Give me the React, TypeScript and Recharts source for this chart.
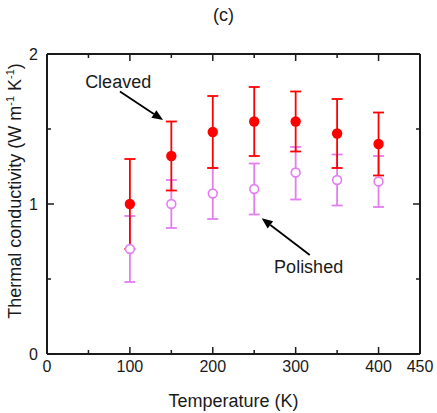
import React from 'react';
import {
  ScatterChart, Scatter, XAxis, YAxis, ErrorBar, ReferenceLine, ReferenceDot,
} from 'recharts';

const temperatures = [100, 150, 200, 250, 300, 350, 400];

const cleaved = [1.0, 1.32, 1.48, 1.55, 1.55, 1.47, 1.4];
const cleavedHigh = [1.3, 1.55, 1.72, 1.78, 1.75, 1.7, 1.61];
const cleavedLow = [0.7, 1.09, 1.24, 1.32, 1.35, 1.24, 1.19];

const polished = [0.7, 1.0, 1.07, 1.1, 1.21, 1.16, 1.15];
const polishedHigh = [0.92, 1.16, 1.24, 1.27, 1.38, 1.33, 1.32];
const polishedLow = [0.48, 0.84, 0.9, 0.93, 1.03, 0.99, 0.98];

const xTicks = [0, 50, 100, 150, 200, 250, 300, 350, 400, 450];
const xLabels = [0, 100, 200, 300, 400, 450];
const yTicks = [0, 0.5, 1, 1.5, 2];
const yLabels = [0, 1, 2];

// text label and arrow (from -> to) in data units
const annotations = [
  { text: 'Cleaved', textX: 46, textY: 1.773, fromX: 88, fromY: 1.75, toX: 140, toY: 1.56 },
  { text: 'Polished', textX: 274, textY: 0.54, fromX: 317, fromY: 0.66, toX: 259, toY: 0.905 },
];

const RED = '#ff0000';
const VIOLET = '#e47cf2';
const INK = '#1a1a1a';
const FONT = '"Liberation Sans", Arial, Helvetica, sans-serif';

const buildRows = (vals: number[], hi: number[], lo: number[]) =>
  temperatures.map((t, i) => ({ t, k: vals[i], err: [vals[i] - lo[i], hi[i] - vals[i]] }));

const cleavedRows = buildRows(cleaved, cleavedHigh, cleavedLow);
const polishedRows = buildRows(polished, polishedHigh, polishedLow);

const BottomTick = (props: any) => {
  const { x, y, payload } = props;
  const major = payload.value % 100 === 0;
  return (
    <g>
      <line x1={x} y1={y} x2={x} y2={y - (major ? 7 : 4)} stroke={INK} strokeWidth={1.5} />
      {xLabels.includes(payload.value) && (
        <text x={x} y={y + 18} textAnchor="middle" fontSize={16} fill={INK} fontFamily={FONT}>
          {payload.value}
        </text>
      )}
    </g>
  );
};

const TopTick = (props: any) => {
  const { x, y, payload } = props;
  const major = payload.value % 100 === 0;
  return <line x1={x} y1={y} x2={x} y2={y + (major ? 7 : 4)} stroke={INK} strokeWidth={1.5} />;
};

const LeftTick = (props: any) => {
  const { x, y, payload } = props;
  const major = Number.isInteger(payload.value);
  return (
    <g>
      <line x1={x} y1={y} x2={x + (major ? 7 : 4)} y2={y} stroke={INK} strokeWidth={1.5} />
      {yLabels.includes(payload.value) && (
        <text x={x - 9} y={y + 6} textAnchor="end" fontSize={16} fill={INK} fontFamily={FONT}>
          {payload.value}
        </text>
      )}
    </g>
  );
};

const RightTick = (props: any) => {
  const { x, y, payload } = props;
  const major = Number.isInteger(payload.value);
  return <line x1={x} y1={y} x2={x - (major ? 7 : 4)} y2={y} stroke={INK} strokeWidth={1.5} />;
};

const XTitle = (props: any) => {
  const { x, y, width } = props.viewBox;
  return (
    <text x={x + width / 2} y={y + 53} textAnchor="middle" fontSize={18} fill={INK} fontFamily={FONT}>
      Temperature (K)
    </text>
  );
};

const YTitle = (props: any) => {
  const { y, height } = props.viewBox;
  const cx = 21;
  const cy = y + height / 2 - 13;
  return (
    <text x={cx} y={cy} transform={`rotate(-90 ${cx} ${cy})`} textAnchor="middle" fontSize={18} fill={INK} fontFamily={FONT}>
      Thermal conductivity (W m
      <tspan fontSize={11} dy={-7}>-1</tspan>
      <tspan dy={7}> K</tspan>
      <tspan fontSize={11} dy={-7}>-1</tspan>
      <tspan dy={7}>)</tspan>
    </text>
  );
};

const PlotTitle = (props: any) => {
  const { x, width } = props.viewBox;
  return (
    <text x={x + width / 2 - 10} y={21} textAnchor="middle" fontSize={18} fill={INK} fontFamily={FONT}>
      (c)
    </text>
  );
};

const Arrow = (props: any) => {
  const { x1, y1, x2, y2 } = props;
  const ang = Math.atan2(y2 - y1, x2 - x1);
  const len = 11;
  const half = 4.5;
  const bx = x2 - len * Math.cos(ang);
  const by = y2 - len * Math.sin(ang);
  const px = -Math.sin(ang) * half;
  const py = Math.cos(ang) * half;
  return (
    <g>
      <line x1={x1} y1={y1} x2={bx} y2={by} stroke="#000" strokeWidth={1.8} />
      <polygon points={`${x2},${y2} ${bx + px},${by + py} ${bx - px},${by - py}`} fill="#000" />
    </g>
  );
};

const FilledDot = (props: any) => <circle cx={props.cx} cy={props.cy} r={5.2} fill={RED} />;
const OpenDot = (props: any) => (
  <circle cx={props.cx} cy={props.cy} r={4.4} fill="#fff" stroke={VIOLET} strokeWidth={1.6} />
);

export default function App() {
  return (
    <div style={{ position: 'absolute', left: 0, top: 0, background: '#fff' }}>
      <ScatterChart width={437} height={413} margin={{ top: 53, right: 16, bottom: 0, left: 0 }}>
        <XAxis
          xAxisId={0}
          dataKey="t"
          type="number"
          domain={[0, 450]}
          ticks={xTicks}
          interval={0}
          height={59}
          tickSize={0}
          tickMargin={0}
          tick={<BottomTick />}
          axisLine={{ stroke: INK, strokeWidth: 2 }}
          label={<XTitle />}
        />
        {/* mirror axes: same fixed domains, they draw the top and right sides of the frame */}
        <XAxis
          xAxisId="top"
          orientation="top"
          dataKey="t"
          type="number"
          domain={[0, 450]}
          ticks={xTicks}
          interval={0}
          height={1}
          tickSize={0}
          tickMargin={0}
          tick={<TopTick />}
          axisLine={{ stroke: INK, strokeWidth: 2 }}
          label={<PlotTitle />}
        />
        <YAxis
          yAxisId={0}
          dataKey="k"
          type="number"
          domain={[0, 2]}
          ticks={yTicks}
          interval={0}
          width={47}
          tickSize={0}
          tickMargin={0}
          tick={<LeftTick />}
          axisLine={{ stroke: INK, strokeWidth: 2 }}
          label={<YTitle />}
        />
        <YAxis
          yAxisId="right"
          orientation="right"
          dataKey="k"
          type="number"
          domain={[0, 2]}
          ticks={yTicks}
          interval={0}
          width={1}
          tickSize={0}
          tickMargin={0}
          tick={<RightTick />}
          axisLine={{ stroke: INK, strokeWidth: 2 }}
        />
        <Scatter
          data={polishedRows}
          dataKey="k"
          xAxisId="top"
          yAxisId="right"
          shape={<OpenDot />}
          isAnimationActive={false}
        >
          <ErrorBar dataKey="err" direction="y" width={5.5} stroke={VIOLET} strokeWidth={1.8} />
        </Scatter>
        <Scatter data={cleavedRows} dataKey="k" shape={<FilledDot />} isAnimationActive={false}>
          <ErrorBar dataKey="err" direction="y" width={5.5} stroke={RED} strokeWidth={1.8} />
        </Scatter>
        {annotations.map((a) => (
          <ReferenceLine
            key={a.text + '-arrow'}
            segment={[{ x: a.fromX, y: a.fromY }, { x: a.toX, y: a.toY }]}
            shape={(p: any) => <Arrow {...p} />}
          />
        ))}
        {annotations.map((a) => (
          <ReferenceDot
            key={a.text}
            x={a.textX}
            y={a.textY}
            r={0}
            shape={(p: any) => (
              <text x={p.cx} y={p.cy} fontSize={18} fill={INK} fontFamily={FONT}>
                {a.text}
              </text>
            )}
          />
        ))}
      </ScatterChart>
    </div>
  );
}
